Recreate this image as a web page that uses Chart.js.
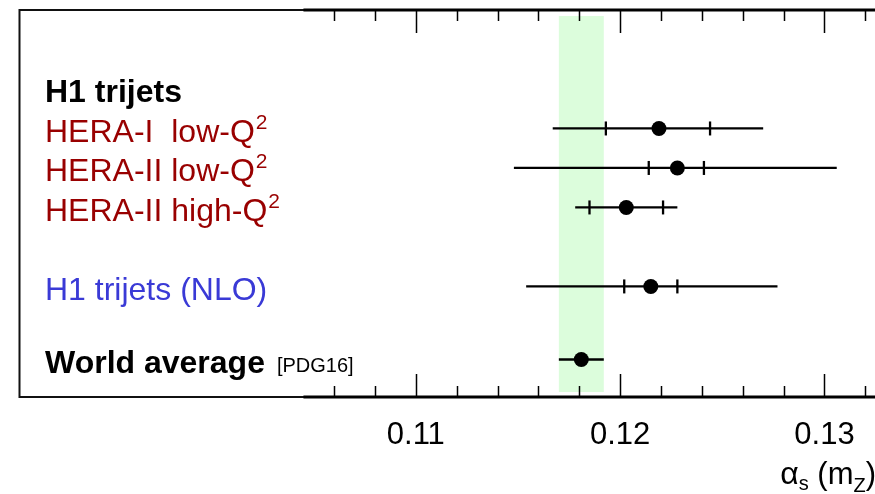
<!DOCTYPE html>
<html><head><meta charset="utf-8">
<script src="https://cdn.jsdelivr.net/npm/chart.js@4/dist/chart.umd.min.js"></script>
<style>html,body{margin:0;padding:0;background:#fff;overflow:hidden}#wrap{width:875px;height:494px;position:relative}</style>
</head><body><div id="wrap"><canvas id="c" width="875" height="494"></canvas></div>
<script>
// ---- data ----
const rows = [1, 2, 3, 5, 6.85];
const centralValues = [0.1219, 0.1228, 0.1203, 0.1215, 0.1181];
const innerLow  = [0.1193, 0.1214, 0.1185, 0.1202, null];
const innerHigh = [0.1244, 0.1241, 0.1221, 0.1228, null];
const totalLow  = [0.1167, 0.1148, 0.1178, 0.1154, 0.1170];
const totalHigh = [0.1270, 0.1306, 0.1228, 0.1277, 0.1192];
const worldBand = [0.1170, 0.1192];
const majorTicks = [0.11, 0.12, 0.13];
const minorTicks = [0.106, 0.108, 0.112, 0.114, 0.116, 0.118, 0.122, 0.124, 0.126, 0.128, 0.132];
const axisStart = 0.1045;
const xMin = 0.09058, xMax = 0.13193;
const labelTexts = ['H1 trijets', 'HERA-I  low-Q', 'HERA-II low-Q', 'HERA-II high-Q', 'H1 trijets (NLO)', 'World average'];
const labelRows  = [0, 1, 2, 3, 5, 6.85];
const labelSup   = ['', '2', '2', '2', '', ''];
const labelNote  = ['', '', '', '', '', '[PDG16]'];
// ---- styles ----
const labelColors = ['#000', '#990000', '#990000', '#990000', '#3a3ad6', '#000'];
const labelBold   = [true, false, false, false, false, true];
const FONT = '"Liberation Sans", Arial, sans-serif';

const h1Plugin = {
  id: 'h1',
  beforeDatasetsDraw(chart) {
    const {ctx, chartArea: a, scales: {x, y}} = chart;
    ctx.save();
    ctx.fillStyle = '#dcfddc';
    const bx0 = x.getPixelForValue(worldBand[0]), bx1 = x.getPixelForValue(worldBand[1]);
    ctx.fillRect(bx0, a.top + 6, bx1 - bx0, a.bottom - a.top - 11);
    ctx.strokeStyle = '#000';
    ctx.lineWidth = 2.3;
    rows.forEach((r, i) => {
      const py = y.getPixelForValue(r);
      ctx.beginPath();
      ctx.moveTo(x.getPixelForValue(totalLow[i]), py);
      ctx.lineTo(x.getPixelForValue(totalHigh[i]), py);
      ctx.stroke();
      [innerLow[i], innerHigh[i]].forEach(v => {
        if (v == null) return;
        const px = x.getPixelForValue(v);
        ctx.beginPath(); ctx.moveTo(px, py - 7); ctx.lineTo(px, py + 7); ctx.stroke();
      });
    });
    ctx.restore();
  },
  afterDraw(chart) {
    const {ctx, chartArea: a, scales: {x, y}} = chart;
    ctx.save();
    // frame
    ctx.strokeStyle = '#111';
    ctx.lineWidth = 2;
    ctx.beginPath();
    ctx.moveTo(chart.width + 5, a.top); ctx.lineTo(a.left + 0.5, a.top);
    ctx.lineTo(a.left + 0.5, a.bottom); ctx.lineTo(chart.width + 5, a.bottom);
    ctx.stroke();
    // axis lines
    ctx.strokeStyle = '#000';
    ctx.lineWidth = 3;
    const xs = x.getPixelForValue(axisStart);
    ctx.beginPath();
    ctx.moveTo(xs, a.top); ctx.lineTo(chart.width + 5, a.top);
    ctx.moveTo(xs, a.bottom); ctx.lineTo(chart.width + 5, a.bottom);
    ctx.stroke();
    // tick marks
    ctx.lineWidth = 1.5;
    const drawTick = (v, len) => {
      const px = Math.round(x.getPixelForValue(v)) + 0.5;
      ctx.beginPath();
      ctx.moveTo(px, a.bottom); ctx.lineTo(px, a.bottom - len);
      ctx.moveTo(px, a.top); ctx.lineTo(px, a.top + len);
      ctx.stroke();
    };
    minorTicks.forEach(v => drawTick(v, 11));
    majorTicks.forEach(v => drawTick(v, 23));
    // labels
    ctx.textBaseline = 'alphabetic';
    ctx.textAlign = 'left';
    labelTexts.forEach((t, i) => {
      const py = y.getPixelForValue(labelRows[i]) + 13.5;
      ctx.font = (labelBold[i] ? 'bold ' : '') + '32px ' + FONT;
      ctx.fillStyle = labelColors[i];
      ctx.fillText(t, 45, py);
      const w = ctx.measureText(t).width;
      if (labelSup[i]) {
        ctx.font = '21px ' + FONT;
        ctx.fillText(labelSup[i], 45 + w + 1, py - 13);
      }
      if (labelNote[i]) {
        ctx.font = '20px ' + FONT;
        ctx.fillStyle = '#000';
        ctx.fillText(labelNote[i], 45 + w + 12, py - 1);
      }
    });
    // axis title
    const parts = [
      {t: '\u03b1', s: 32, dy: 0}, {t: 's', s: 20, dy: 6},
      {t: ' (m', s: 31, dy: 0}, {t: 'Z', s: 20, dy: 8}, {t: ')', s: 31, dy: 0}
    ];
    let tw = 0;
    parts.forEach(p => { ctx.font = p.s + 'px ' + FONT; p.w = ctx.measureText(p.t).width; tw += p.w; });
    let tx = 876 - tw;
    const base = a.bottom + 87;
    ctx.fillStyle = '#000';
    parts.forEach(p => { ctx.font = p.s + 'px ' + FONT; ctx.fillText(p.t, tx, base + p.dy); tx += p.w; });
    ctx.restore();
  }
};

new Chart(document.getElementById('c'), {
  type: 'scatter',
  data: {
    datasets: [{
      data: centralValues.map((v, i) => ({x: v, y: rows[i]})),
      pointRadius: 7.5,
      pointHoverRadius: 7.5,
      backgroundColor: '#000',
      borderWidth: 0
    }]
  },
  options: {
    responsive: false,
    animation: false,
    devicePixelRatio: 1,
    layout: {padding: {left: 19, top: 10, right: 0, bottom: 0}},
    plugins: {legend: {display: false}, tooltip: {enabled: false}},
    scales: {
      x: {
        type: 'linear', min: xMin, max: xMax,
        grid: {display: false, drawTicks: false},
        border: {display: false},
        afterBuildTicks: s => { s.ticks = majorTicks.map(v => ({value: v})); },
        afterFit: s => { s.height = 97; },
        ticks: {
          font: {family: FONT, size: 31}, color: '#000', padding: 20,
          maxRotation: 0, autoSkip: false,
          callback: v => String(v)
        }
      },
      y: {type: 'linear', display: false, min: -2, max: 7.8, reverse: true}
    }
  },
  plugins: [h1Plugin]
});
</script>
</body></html>
